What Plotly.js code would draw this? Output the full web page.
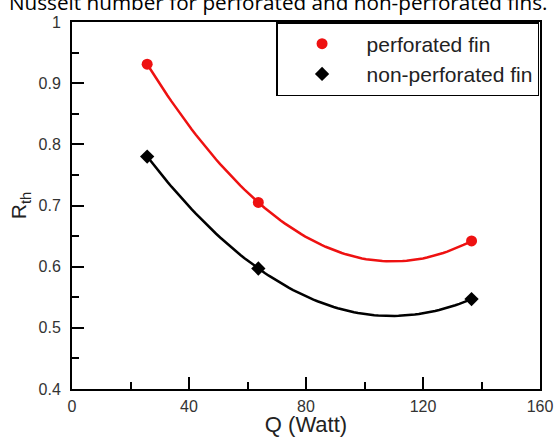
<!DOCTYPE html>
<html>
<head>
<meta charset="utf-8">
<script src="https://cdn.plot.ly/plotly-3.0.1.min.js"></script>
<style>
  html, body { margin: 0; padding: 0; background: #fff; }
  #chart { width: 555px; height: 437px; }
</style>
</head>
<body>
<div id="chart"></div>
<script>
// Heat input Q (W) and thermal resistance R_th for each fin type
const heatInput = [25.7, 63.7, 136.6];
const rthPerforated = [0.931, 0.705, 0.642];
const rthNonPerforated = [0.780, 0.597, 0.547];

const seriesNames = ['perforated fin', 'non-perforated fin'];
const xTickValues = [0, 40, 80, 120, 160];
const yTickValues = [0.4, 0.5, 0.6, 0.7, 0.8, 0.9, 1];

// Second-order least-squares trend line through a series
function quadFit(xs, ys) {
  let s = [0, 0, 0, 0, 0], t = [0, 0, 0];
  xs.forEach((x, i) => {
    for (let k = 0; k < 5; k++) s[k] += Math.pow(x, k);
    for (let k = 0; k < 3; k++) t[k] += ys[i] * Math.pow(x, k);
  });
  const A = [[s[0], s[1], s[2], t[0]], [s[1], s[2], s[3], t[1]], [s[2], s[3], s[4], t[2]]];
  for (let c = 0; c < 3; c++) {
    for (let r = c + 1; r < 3; r++) {
      const f = A[r][c] / A[c][c];
      for (let k = c; k < 4; k++) A[r][k] -= f * A[c][k];
    }
  }
  const coef = [0, 0, 0];
  for (let r = 2; r >= 0; r--) {
    let v = A[r][3];
    for (let k = r + 1; k < 3; k++) v -= A[r][k] * coef[k];
    coef[r] = v / A[r][r];
  }
  const lo = Math.min(...xs), hi = Math.max(...xs), n = 80;
  const fx = [], fy = [];
  for (let i = 0; i <= n; i++) {
    const x = lo + (hi - lo) * i / n;
    fx.push(x);
    fy.push(coef[0] + coef[1] * x + coef[2] * x * x);
  }
  return { x: fx, y: fy };
}

const fitP = quadFit(heatInput, rthPerforated);
const fitN = quadFit(heatInput, rthNonPerforated);

const red = '#ee1111';
const black = '#000000';
const sans = 'Liberation Sans, Arial, sans-serif';

const traces = [
  { x: fitP.x, y: fitP.y, mode: 'lines', line: { color: red, width: 2.5 }, showlegend: false, hoverinfo: 'skip' },
  { x: fitN.x, y: fitN.y, mode: 'lines', line: { color: black, width: 2.5 }, showlegend: false, hoverinfo: 'skip' },
  { x: heatInput, y: rthPerforated, mode: 'markers', name: seriesNames[0],
    marker: { symbol: 'circle', size: 11, color: red } },
  { x: heatInput, y: rthNonPerforated, mode: 'markers', name: seriesNames[1],
    marker: { symbol: 'diamond', size: 11, color: black } }
];

const tickFont = { family: sans, size: 16, color: '#333' };

const layout = {
  width: 555, height: 437,
  margin: { l: 72, r: 15, t: 22, b: 48 },
  paper_bgcolor: '#fff', plot_bgcolor: '#fff',
  showlegend: true,
  xaxis: {
    range: [0, 160], tickvals: xTickValues, ticktext: xTickValues.map(String),
    ticks: 'inside', ticklen: 12, tickwidth: 2, tickcolor: '#000',
    minor: { dtick: 20, ticks: 'inside', ticklen: 7, tickwidth: 2, tickcolor: '#000' },
    showline: true, linecolor: '#000', linewidth: 2, mirror: true,
    showgrid: false, zeroline: false, tickfont: tickFont, ticklabelstandoff: 2,
    title: { text: 'Q (Watt)', font: { family: sans, size: 22, color: '#222' }, standoff: 2 }
  },
  yaxis: {
    range: [0.4, 1], tickvals: yTickValues, ticktext: yTickValues.map(v => v === 1 ? '1' : v.toFixed(1)),
    ticks: 'inside', ticklen: 12, tickwidth: 2, tickcolor: '#000',
    minor: { dtick: 0.05, ticks: 'inside', ticklen: 7, tickwidth: 2, tickcolor: '#000' },
    showline: true, linecolor: '#000', linewidth: 2, mirror: true,
    showgrid: false, zeroline: false, tickfont: tickFont, ticklabelstandoff: 6,
    title: { text: 'R<sub>th</sub>', font: { family: sans, size: 21, color: '#222' }, standoff: 6 }
  },
  legend: {
    x: 0.998, xanchor: 'right', y: 1, yanchor: 'top',
    bgcolor: '#fff', bordercolor: '#000', borderwidth: 1.5,
    font: { family: sans, size: 21, color: '#222' },
    itemwidth: 79, tracegroupgap: 2
  },
  annotations: [{
    text: 'Nusselt number for perforated and non-perforated fins.',
    xref: 'paper', yref: 'paper', x: 0.442, y: 1.012, xanchor: 'center', yanchor: 'bottom',
    showarrow: false, font: { family: 'Open Sans, sans-serif', size: 20.7, color: '#000' }
  }]
};

Plotly.newPlot('chart', traces, layout, { displayModeBar: false, staticPlot: true });
</script>
</body>
</html>
